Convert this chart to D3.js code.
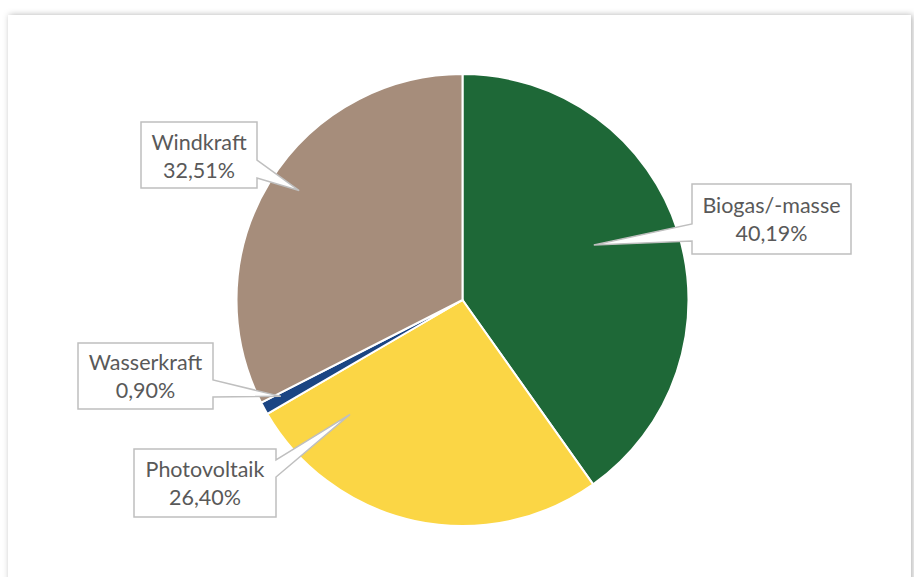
<!DOCTYPE html>
<html>
<head>
<meta charset="utf-8">
<script src="https://cdn.jsdelivr.net/npm/d3@7/dist/d3.min.js"></script>
<style>
  html, body { margin: 0; padding: 0; background: #ffffff; }
  svg { display: block; }
</style>
</head>
<body>
<svg id="chart" width="914" height="577"></svg>
<script>
// Anteile der erneuerbaren Energieträger (in %)
const categories = ["Biogas/-masse", "Photovoltaik", "Wasserkraft", "Windkraft"];
const values = [40.19, 26.40, 0.90, 32.51];
const colors = ["#1E6837", "#FBD645", "#1B4583", "#A68D7B"];

// Callout placement: box, side of the pointer, pointer base (px from box top),
// pointer tip as fraction along the slice angle and fraction of the radius,
// first text baseline below the box top
const callouts = [
  { x: 692, y: 184, w: 159, h: 70, side: "left",  b0: 40, b1: 57, tA: 0.465, tR: 0.63, t0: 29 },
  { x: 134, y: 449, w: 142, h: 68, side: "right", b0: 11, b1: 28, tA: 0.84,  tR: 0.71, t0: 28 },
  { x: 78,  y: 343, w: 135, h: 66, side: "right", b0: 37, b1: 54, tA: 0.72,  tR: 0.91, t0: 27 },
  { x: 141, y: 122, w: 116, h: 66, side: "right", b0: 38, b1: 56, tA: 0.52,  tR: 0.87, t0: 28 }
];

const svg = d3.select("#chart");

// chart area frame with soft shadow
const defs = svg.append("defs");
const f = defs.append("filter").attr("id", "shadow")
  .attr("x", "-5%").attr("y", "-5%").attr("width", "110%").attr("height", "110%");
f.append("feDropShadow").attr("dx", 1.5).attr("dy", 0).attr("stdDeviation", 3)
  .attr("flood-color", "#000").attr("flood-opacity", 0.3);

svg.append("rect")
  .attr("x", 8).attr("y", 15).attr("width", 903).attr("height", 600)
  .attr("fill", "#ffffff").attr("filter", "url(#shadow)");

const cx = 462.5, cy = 300, r = 226;
const g = svg.append("g").attr("transform", `translate(${cx},${cy})`);

const pie = d3.pie().sort(null).value(d => d);
const arcs = pie(values);
const arc = d3.arc().innerRadius(0).outerRadius(r);

g.selectAll("path.slice")
  .data(arcs)
  .join("path")
  .attr("class", "slice")
  .attr("d", arc)
  .attr("fill", (d, i) => colors[i])
  .attr("stroke", "#ffffff")
  .attr("stroke-width", 2)
  .attr("stroke-linejoin", "round");

// German number format
const de = d3.formatLocale({ decimal: ",", thousands: ".", grouping: [3], currency: ["", " €"] });
const fmt = de.format(".2f");

const labels = svg.append("g");
arcs.forEach((a, i) => {
  const c = callouts[i];
  const ang = a.startAngle + (a.endAngle - a.startAngle) * c.tA;
  const tx = cx + Math.sin(ang) * r * c.tR;
  const ty = cy - Math.cos(ang) * r * c.tR;
  const x0 = c.x, x1 = c.x + c.w, y0 = c.y, y1 = c.y + c.h;
  let p;
  if (c.side === "right") {
    p = `M${x0},${y0}H${x1}V${y0 + c.b0}L${tx},${ty}L${x1},${y0 + c.b1}V${y1}H${x0}Z`;
  } else {
    p = `M${x0},${y0}H${x1}V${y1}H${x0}V${y0 + c.b1}L${tx},${ty}L${x0},${y0 + c.b0}Z`;
  }
  labels.append("path")
    .attr("d", p)
    .attr("fill", "#ffffff")
    .attr("stroke", "#BFBFBF")
    .attr("stroke-width", 1.5)
    .attr("stroke-linejoin", "miter");

  const t = labels.append("text")
    .attr("text-anchor", "middle")
    .attr("font-family", "Lato, 'Open Sans', sans-serif")
    .attr("font-size", 21.5)
    .attr("fill", "#595959");
  t.append("tspan").attr("x", x0 + c.w / 2).attr("y", y0 + c.t0).text(categories[i]);
  t.append("tspan").attr("x", x0 + c.w / 2).attr("y", y0 + c.t0 + 28).text(fmt(values[i]) + "%");
});
</script>
</body>
</html>
